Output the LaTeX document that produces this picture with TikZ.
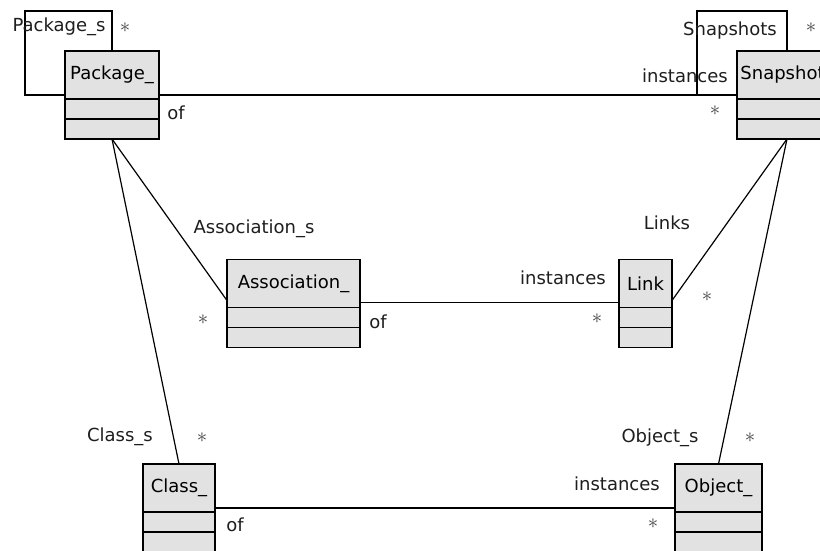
\documentclass[tikz,border=0pt]{standalone}
\usepackage{fontspec}
\setmainfont{DejaVu Sans}
\usetikzlibrary{positioning}
\definecolor{boxgray}{RGB}{226,226,226}
\definecolor{txtgray}{RGB}{30,30,30}
\tikzset{
  hd/.style={draw, fill=boxgray, line width=1.4pt, outer sep=0pt, inner sep=0pt,
             minimum width=#1, minimum height=48pt, font=\fontsize{18}{20}\selectfont},
  cp/.style={hd=#1, minimum height=20pt},
  lb/.style={inner sep=0pt, text=txtgray, font=\fontsize{18}{20}\selectfont,
             text height=12pt, text depth=3pt},
  ml/.style={inner sep=0pt, text=black!75, font=\fontsize{21}{22}\selectfont},
  ln/.style={line width=1.2pt}
}

\begin{document}
\begin{tikzpicture}[x=1pt, y=-1pt, node distance=0pt]
  \useasboundingbox[fill=white] (0,0) rectangle (820,551);
  \clip (0,0) rectangle (820,551);

  % classes
  \node[hd=94pt] (pkg) at (112,75) {Package\_};
  \node[cp=94pt, below=of pkg] (pkg1) {};
  \node[cp=94pt, below=of pkg1] (pkg2) {};
  \node[hd=100pt] (snp) at (787,75) {Snapshot\_};
  \node[cp=100pt, below=of snp] (snp1) {};
  \node[cp=100pt, below=of snp1] (snp2) {};
  \node[hd=133pt] (asc) at (293.5,283.5) {Association\_};
  \node[cp=133pt, below=of asc] (asc1) {};
  \node[cp=133pt, below=of asc1] (asc2) {};
  \node[hd=53pt] (lnk) at (645.5,283.5) {Link};
  \node[cp=53pt, below=of lnk] (lnk1) {};
  \node[cp=53pt, below=of lnk1] (lnk2) {};
  \node[hd=72pt] (cls) at (179,488) {Class\_};
  \node[cp=72pt, below=of cls] (cls1) {};
  \node[cp=72pt, below=of cls1] (cls2) {};
  \node[hd=87pt] (obj) at (718.5,488) {Object\_};
  \node[cp=87pt, below=of obj] (obj1) {};
  \node[cp=87pt, below=of obj1] (obj2) {};

  % associations
  \draw[ln] ([yshift=4pt]pkg.south west) -- ++(-40pt,0) |- ([yshift=40pt]pkg.north) -- (pkg.north);
  \draw[ln] ([yshift=4pt]snp.south west) -- ++(-40pt,0) |- ([yshift=40pt]snp.north) -- (snp.north);
  \draw[ln] ([yshift=4pt]pkg.south east) -- ([yshift=4pt]snp.south west);
  \draw[ln] ([yshift=5pt]asc.south east) -- ([yshift=5pt]lnk.south west);
  \draw[ln] ([yshift=4pt]cls.south east) -- ([yshift=4pt]obj.south west);
  \draw[ln] (pkg2.south) -- ([yshift=7pt]asc.south west);
  \draw[ln] ([yshift=7pt]lnk.south east) -- (snp2.south);
  \draw[ln] (pkg2.south) -- (cls.north);
  \draw[ln] (snp2.south) -- (obj.north);

  % role names and multiplicities
  \node[lb] (pkgs) at (59,27) {Package\_s};
  \node[ml] (pkgsm) at (125,28) {$\ast$};
  \node[lb] (pkgof) at (176,115) {of};
  \node[lb] (snps) at (730,31) {Snapshots};
  \node[ml] (snpsm) at (811,28) {$\ast$};
  \node[lb] (snpin) at (685,78) {instances};
  \node[ml] (snpinm) at (715,111) {$\ast$};
  \node[lb] (ascs) at (254,229) {Association\_s};
  \node[ml] (ascsm) at (203,320) {$\ast$};
  \node[lb] (ascof) at (378,324) {of};
  \node[lb] (lnkin) at (563,280) {instances};
  \node[ml] (lnkinm) at (597,319) {$\ast$};
  \node[lb] (lnks) at (667,225) {Links};
  \node[ml] (lnksm) at (707,297) {$\ast$};
  \node[lb] (clss) at (120,437) {Class\_s};
  \node[ml] (clssm) at (202,438) {$\ast$};
  \node[lb] (clsof) at (235,527) {of};
  \node[lb] (objs) at (660,438) {Object\_s};
  \node[ml] (objsm) at (750,438) {$\ast$};
  \node[lb] (objin) at (617,486) {instances};
  \node[ml] (objinm) at (653,524) {$\ast$};
\end{tikzpicture}
\end{document}
